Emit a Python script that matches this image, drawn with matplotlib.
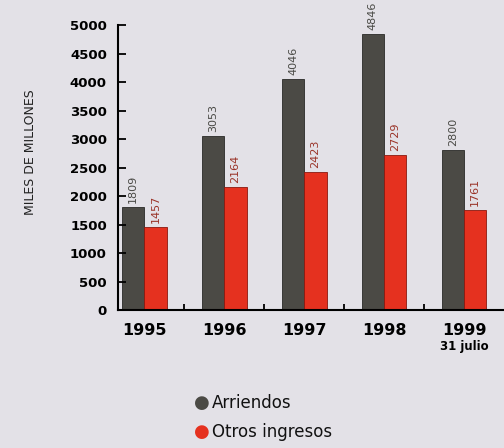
import matplotlib
matplotlib.use("Agg")
import matplotlib.pyplot as plt
import numpy as np

years = ["1995", "1996", "1997", "1998", "1999"]
arriendos = [1809, 3053, 4046, 4846, 2800]
otros = [1457, 2164, 2423, 2729, 1761]
yticks = [0, 500, 1000, 1500, 2000, 2500, 3000, 3500, 4000, 4500, 5000]

bg = "#e3e1e7"
gray = "#4b4a45"
red = "#e5311f"

fig = plt.figure(figsize=(5.04, 4.48), dpi=100, facecolor=bg)
ax = fig.add_axes([0.234, 0.308, 0.766, 0.636], facecolor=bg)

x = np.arange(len(years))
w = 0.28
ax.bar(x - w / 2, arriendos, w, color=gray, edgecolor="#2a2a28", linewidth=0.6)
ax.bar(x + w / 2, otros, w, color=red, edgecolor="#8a1a10", linewidth=0.6)

for xi, a, o in zip(x, arriendos, otros):
    ax.text(xi - w / 2, a + 70, str(a), rotation=90, ha="center", va="bottom",
            fontsize=8, color="#4a4a46")
    ax.text(xi + w / 2, o + 70, str(o), rotation=90, ha="center", va="bottom",
            fontsize=8, color="#9a3328")

ax.set_xlim(-0.33, 4.5)
ax.set_ylim(0, 5000)
ax.set_yticks(yticks)
ax.set_yticklabels([str(t) for t in yticks], fontsize=9.5, fontweight="bold")
ax.set_xticks(x[:-1] + 0.5)
ax.set_xticklabels([])
ax.tick_params(axis="y", direction="in", length=6, width=1.3, pad=8)
ax.tick_params(axis="x", direction="in", length=4, width=1.3)
for s in ["top", "right"]:
    ax.spines[s].set_visible(False)
for s in ["left", "bottom"]:
    ax.spines[s].set_linewidth(1.5)

for xi, yr in zip(x, years):
    ax.text(xi, -230, yr, ha="center", va="top", fontsize=11.5, fontweight="bold")
ax.text(4, -520, "31 julio", ha="center", va="top", fontsize=8.5, fontweight="bold")

fig.text(0.06, 0.66, "MILES DE MILLONES", rotation=90, ha="center", va="center",
         fontsize=9, color="#222222")

fig.text(0.40, 0.10, "\u25CF", color=gray, fontsize=13, ha="center", va="center")
fig.text(0.42, 0.10, "Arriendos", color="#111111", fontsize=12, ha="left", va="center")
fig.text(0.40, 0.035, "\u25CF", color=red, fontsize=13, ha="center", va="center")
fig.text(0.42, 0.035, "Otros ingresos", color="#111111", fontsize=12, ha="left", va="center")

fig.savefig("out.png", dpi=100, facecolor=bg)
